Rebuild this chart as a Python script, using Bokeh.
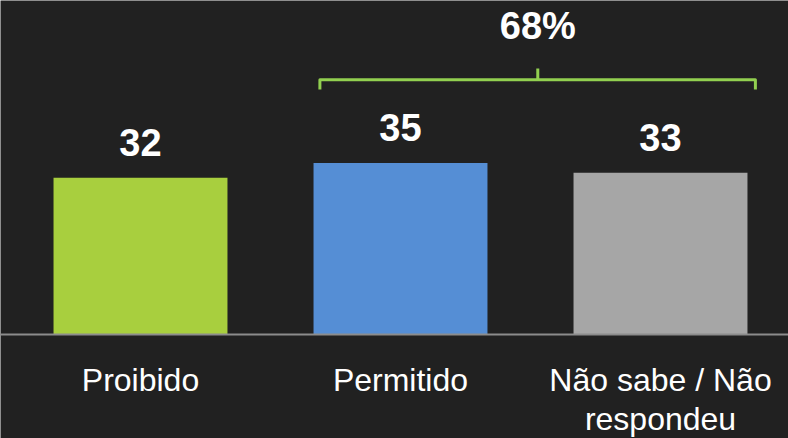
from bokeh.plotting import figure
from bokeh.models import Range1d, Span, ColumnDataSource
from bokeh.core.properties import value
from bokeh.embed import file_html
from bokeh.resources import INLINE

# ---- data ----
categories = ["Proibido", "Permitido", "Não sabe / Não\nrespondeu"]
values = [32, 35, 33]
bar_colors = ["#A8CF3E", "#558ED5", "#A6A6A6"]
value_labels = ["32", "35", "33"]
group_label = "68%"

BG = "#212121"
FONT = "Liberation Sans"

xs = list(range(len(categories)))
src = ColumnDataSource(dict(x=xs, top=values, color=bar_colors,
                            lab=value_labels, cat=categories,
                            zero=[0] * len(xs)))

p = figure(width=788, height=438, output_backend="svg", toolbar_location=None,
           x_range=Range1d(-0.53846, 2.49231), y_range=Range1d(-21.22, 68.16),
           min_border=0, background_fill_color=BG, border_fill_color=BG,
           outline_line_color=None)
p.axis.visible = False
p.grid.visible = False

p.vbar(x="x", top="top", bottom=0, width=0.669, color="color",
       line_color=None, source=src)

p.add_layout(Span(location=0, dimension="width", line_color="#8C8C8C",
                  line_width=2))

# value labels
p.text(x="x", y="top", text="lab", source=src, y_offset=-35,
       text_align="center", text_baseline="alphabetic",
       text_font=value(FONT), text_font_style="bold",
       text_font_size="38px", text_color="white")

# category labels
p.text(x="x", y="zero", text="cat", source=src, y_offset=27,
       text_align="center", text_baseline="top",
       text_font=value(FONT), text_font_size="32px",
       text_color="white", text_line_height=1.1)

# bracket over bars 2 and 3
bl, br, bm = 0.69, 2.365, 1.528
yh, ye, yt = 52.0, 50.0, 54.3
p.line(x=[bl, bl, br, br], y=[ye, yh, yh, ye], line_color="#92D050",
       line_width=3, line_join="round")
p.line(x=[bm, bm], y=[yh, yt], line_color="#92D050", line_width=3)
p.text(x=[bm], y=[60.55], y_offset=-12, text=[group_label], text_align="center",
       text_baseline="alphabetic", text_font=value(FONT),
       text_font_style="bold", text_font_size="38px", text_color="white")

open("out.html", "w").write(file_html(p, INLINE))
